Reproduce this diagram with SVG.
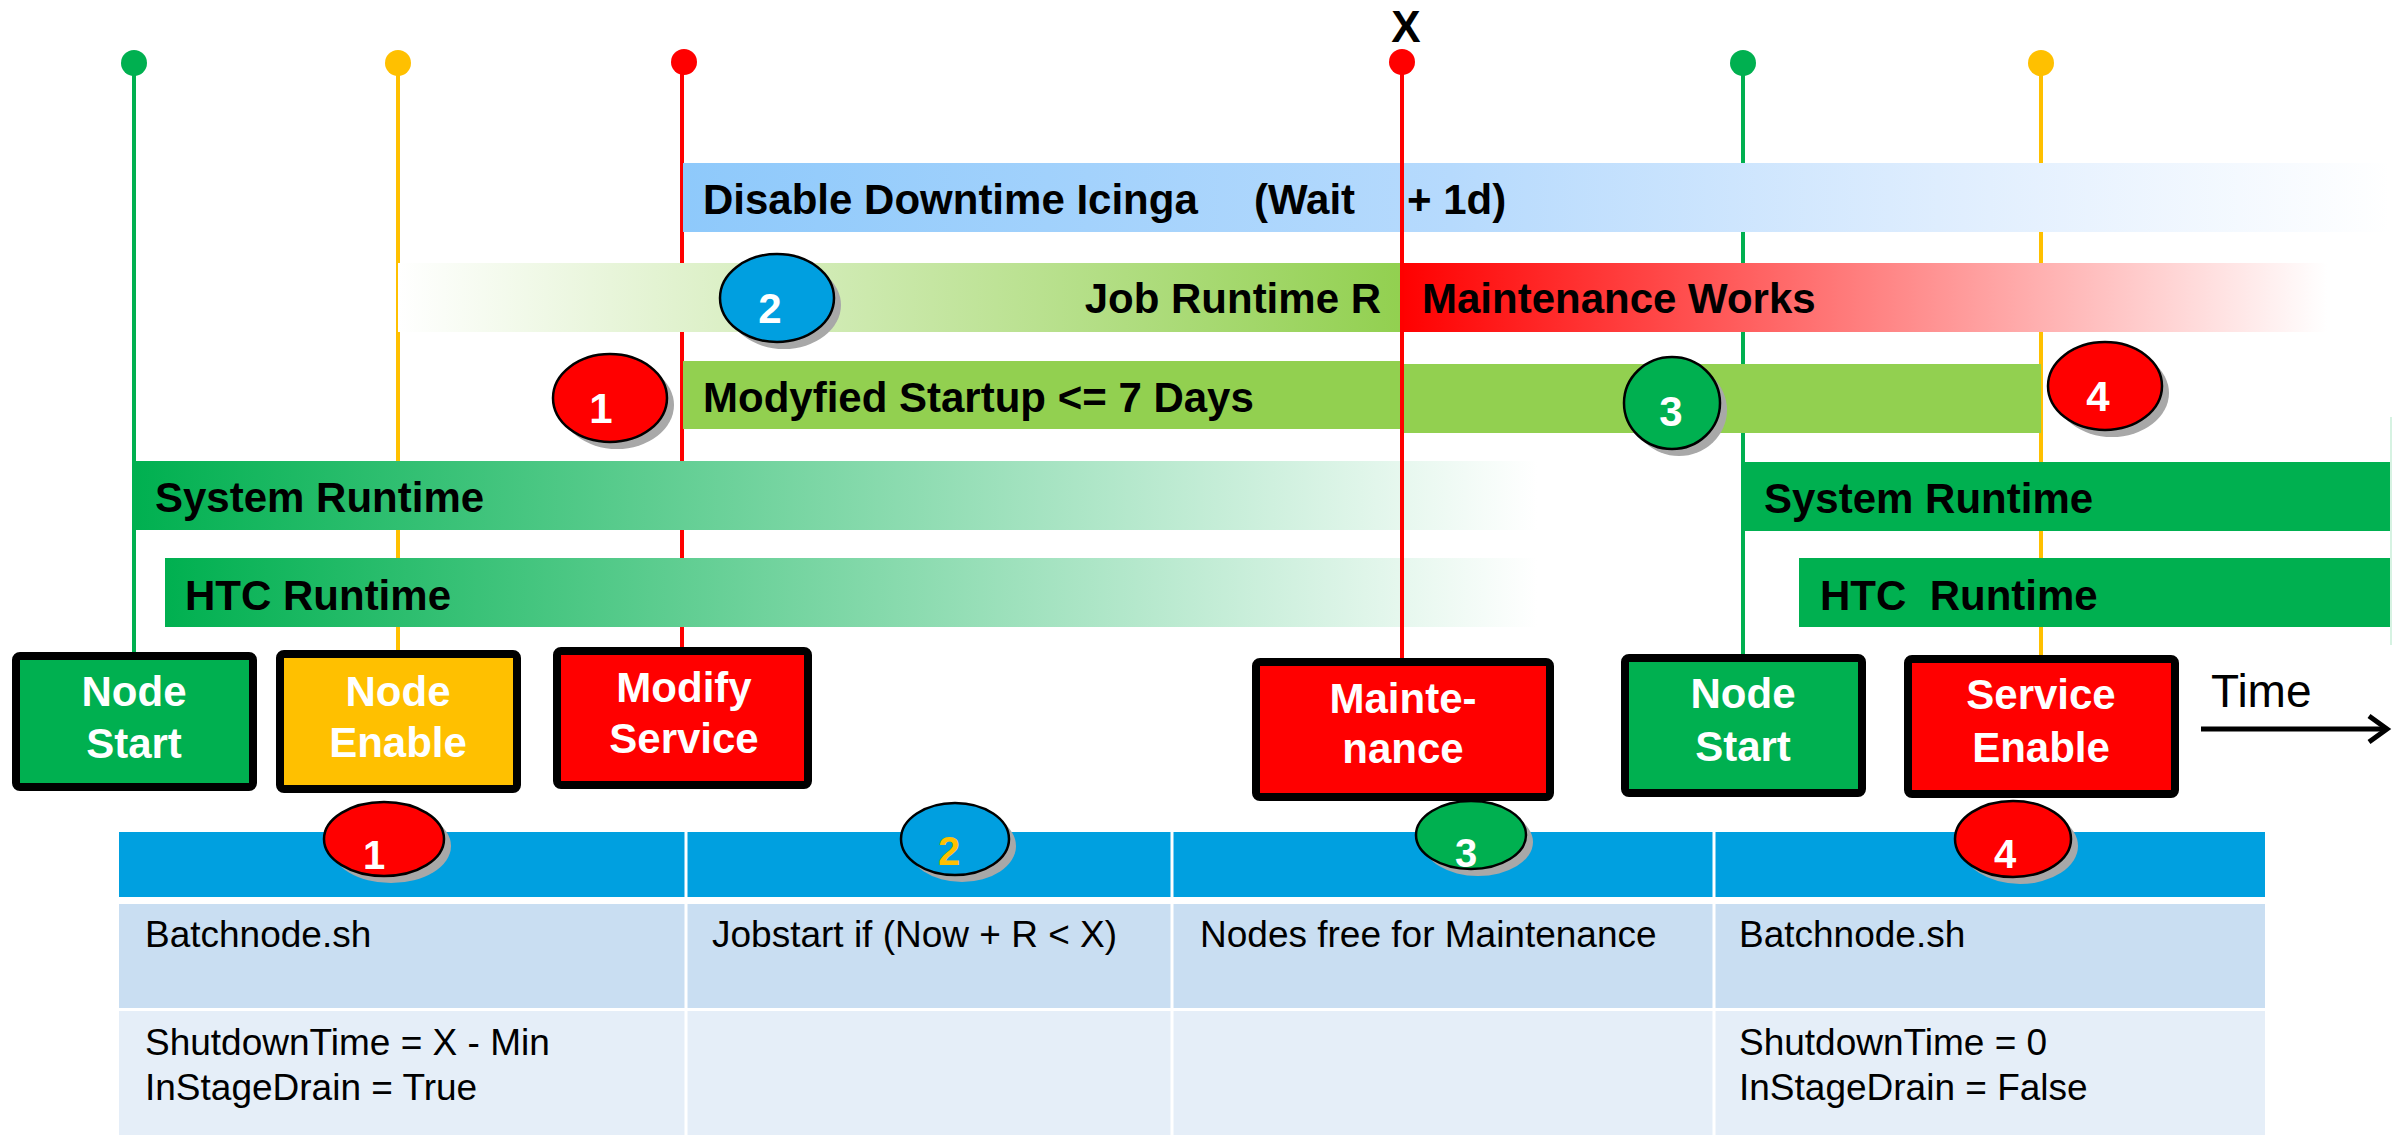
<svg xmlns="http://www.w3.org/2000/svg" width="2407" height="1135" viewBox="0 0 2407 1135">
<defs>
<linearGradient id="gDisable" gradientUnits="userSpaceOnUse" x1="683" y1="0" x2="2390" y2="0">
<stop offset="0" stop-color="#8ec9fb"/><stop offset="0.45" stop-color="#b6dafd"/><stop offset="0.75" stop-color="#e0eefe"/><stop offset="1" stop-color="#ffffff"/>
</linearGradient>
<linearGradient id="gJob" gradientUnits="userSpaceOnUse" x1="398" y1="0" x2="1401" y2="0">
<stop offset="0" stop-color="#ffffff"/><stop offset="1" stop-color="#92d050"/>
</linearGradient>
<linearGradient id="gMaint" gradientUnits="userSpaceOnUse" x1="1401" y1="0" x2="2327" y2="0">
<stop offset="0" stop-color="#ff0000"/><stop offset="1" stop-color="#ffffff"/>
</linearGradient>
<linearGradient id="gSys" gradientUnits="userSpaceOnUse" x1="134" y1="0" x2="1537" y2="0">
<stop offset="0" stop-color="#00b050"/><stop offset="1" stop-color="#ffffff"/>
</linearGradient>
<linearGradient id="gHtc" gradientUnits="userSpaceOnUse" x1="165" y1="0" x2="1537" y2="0">
<stop offset="0" stop-color="#00b050"/><stop offset="1" stop-color="#ffffff"/>
</linearGradient>
<style>
.bar{font-family:"Liberation Sans",Arial,sans-serif;font-weight:bold;font-size:42px;fill:#000}
.box{stroke:#000;stroke-width:8}
.boxt{font-family:"Liberation Sans",Arial,sans-serif;font-weight:bold;font-size:42px;fill:#fff;text-anchor:middle}
.num{font-family:"Liberation Sans",Arial,sans-serif;font-weight:bold;font-size:42px;fill:#fff;text-anchor:middle}
.nums{font-family:"Liberation Sans",Arial,sans-serif;font-weight:bold;font-size:40px;fill:#fff;text-anchor:middle}
.bdg{stroke:#000;stroke-width:2.5}
.shd{fill:#a8a8a8}
.cell{font-family:"Liberation Sans",Arial,sans-serif;font-size:37px;fill:#000}
.vl{stroke-width:4;fill:none}
</style>
</defs>
<rect width="2407" height="1135" fill="#ffffff"/>

<g id="connectors">
<line class="vl" x1="134" y1="63" x2="134" y2="656" stroke="#00b050"/>
<circle cx="134" cy="63" r="13" fill="#00b050"/>
<line class="vl" x1="398" y1="63" x2="398" y2="654" stroke="#ffc000"/>
<circle cx="398" cy="63" r="13" fill="#ffc000"/>
<line class="vl" x1="682" y1="62" x2="682" y2="651" stroke="#ff0000"/>
<circle cx="684" cy="62" r="13" fill="#ff0000"/>
<line class="vl" x1="1743" y1="63" x2="1743" y2="658" stroke="#00b050"/>
<circle cx="1743" cy="63" r="13" fill="#00b050"/>
<line class="vl" x1="2041" y1="63" x2="2041" y2="659" stroke="#ffc000"/>
<circle cx="2041" cy="63" r="13" fill="#ffc000"/>
</g>

<g id="bars">
<rect x="683" y="163" width="1707" height="69" fill="url(#gDisable)"/>
<text class="bar" x="703" y="214">Disable Downtime Icinga<tspan x="1254">(Wait</tspan><tspan x="1407">+ 1d)</tspan></text>
<rect x="398" y="263" width="1003" height="69" fill="url(#gJob)"/>
<text class="bar" x="1381" y="313" text-anchor="end">Job Runtime R</text>
<rect x="1401" y="263" width="926" height="69" fill="url(#gMaint)"/>
<text class="bar" x="1422" y="313">Maintenance Works</text>
<rect x="683" y="361" width="720" height="68" fill="#92d050"/>
<rect x="1403" y="364" width="638" height="69" fill="#92d050"/>
<text class="bar" x="703" y="412">Modyfied Startup &lt;= 7 Days</text>
<rect x="134" y="461" width="1403" height="69" fill="url(#gSys)"/>
<text class="bar" x="155" y="512">System Runtime</text>
<rect x="165" y="558" width="1372" height="69" fill="url(#gHtc)"/>
<text class="bar" x="185" y="610">HTC Runtime</text>
<rect x="1743" y="462" width="647" height="69" fill="#00b050"/>
<text class="bar" x="1764" y="513">System Runtime</text>
<rect x="1799" y="558" width="591" height="69" fill="#00b050"/>
<text class="bar" x="1820" y="610" xml:space="preserve">HTC  Runtime</text>
<line x1="2391" y1="417" x2="2391" y2="645" stroke="#c8eed8" stroke-width="1.5"/>
</g>

<g id="x-marker">
<line class="vl" x1="1402" y1="62" x2="1402" y2="662" stroke="#ff0000"/>
<circle cx="1402" cy="62" r="13" fill="#ff0000"/>
<text x="1406" y="42" text-anchor="middle" font-family="Liberation Sans, Arial, sans-serif" font-weight="bold" font-size="44">X</text>
</g>

<g id="node-start-1">
<rect class="box" x="16" y="656" width="237" height="131" rx="4" fill="#00b050"/>
<text class="boxt" x="134" y="706">Node</text>
<text class="boxt" x="134" y="758">Start</text>
</g>
<g id="node-enable">
<rect class="box" x="280" y="654" width="237" height="135" rx="4" fill="#ffc000"/>
<text class="boxt" x="398" y="706">Node</text>
<text class="boxt" x="398" y="757">Enable</text>
</g>
<g id="modify-service">
<rect class="box" x="557" y="651" width="251" height="134" rx="4" fill="#ff0000"/>
<text class="boxt" x="684" y="702">Modify</text>
<text class="boxt" x="684" y="753">Service</text>
</g>
<g id="maintenance">
<rect class="box" x="1256" y="662" width="294" height="135" rx="4" fill="#ff0000"/>
<text class="boxt" x="1403" y="713">Mainte-</text>
<text class="boxt" x="1403" y="763">nance</text>
</g>
<g id="node-start-2">
<rect class="box" x="1625" y="658" width="237" height="135" rx="4" fill="#00b050"/>
<text class="boxt" x="1743" y="708">Node</text>
<text class="boxt" x="1743" y="761">Start</text>
</g>
<g id="service-enable">
<rect class="box" x="1908" y="659" width="267" height="135" rx="4" fill="#ff0000"/>
<text class="boxt" x="2041" y="709">Service</text>
<text class="boxt" x="2041" y="762">Enable</text>
</g>

<g id="time-axis">
<text x="2211" y="707" font-family="Liberation Sans, Arial, sans-serif" font-size="46">Time</text>
<line x1="2201" y1="729" x2="2386" y2="729" stroke="#000" stroke-width="5"/>
<polyline points="2369,716 2387,729 2369,742" fill="none" stroke="#000" stroke-width="5" stroke-linejoin="miter"/>
</g>

<g id="badges-top">
<g id="badge-1-top">
<ellipse class="shd" cx="617" cy="405" rx="57" ry="44"/>
<ellipse class="bdg" cx="610" cy="398" rx="57" ry="44" fill="#ff0000"/>
<text class="num" x="601" y="423">1</text>
</g>
<g id="badge-2-top">
<ellipse class="shd" cx="784" cy="305" rx="57" ry="44"/>
<ellipse class="bdg" cx="777" cy="298" rx="57" ry="44" fill="#009fe0"/>
<text class="num" x="770" y="323">2</text>
</g>
<g id="badge-3-top">
<ellipse class="shd" cx="1679" cy="410" rx="48" ry="46"/>
<ellipse class="bdg" cx="1672" cy="403" rx="48" ry="46" fill="#00b050"/>
<text class="num" x="1671" y="426" font-size="44">3</text>
</g>
<g id="badge-4-top">
<ellipse class="shd" cx="2112" cy="393" rx="57" ry="44"/>
<ellipse class="bdg" cx="2105" cy="386" rx="57" ry="44" fill="#ff0000"/>
<text class="num" x="2098" y="411">4</text>
</g>
</g>

<g id="table">
<rect x="119" y="832" width="2146" height="65" fill="#00a0e0"/>
<rect x="119" y="904" width="2146" height="104" fill="#c9def2"/>
<rect x="119" y="1011" width="2146" height="124" fill="#e5eef8"/>
<g stroke="#ffffff" stroke-width="3">
<line x1="686" y1="832" x2="686" y2="1135"/>
<line x1="1172" y1="832" x2="1172" y2="1135"/>
<line x1="1714" y1="832" x2="1714" y2="1135"/>
</g>
<text class="cell" x="145" y="947">Batchnode.sh</text>
<text class="cell" x="712" y="947">Jobstart if (Now + R &lt; X)</text>
<text class="cell" x="1200" y="947">Nodes free for Maintenance</text>
<text class="cell" x="1739" y="947">Batchnode.sh</text>
<text class="cell" x="145" y="1055">ShutdownTime = X - Min</text>
<text class="cell" x="145" y="1100">InStageDrain = True</text>
<text class="cell" x="1739" y="1055">ShutdownTime = 0</text>
<text class="cell" x="1739" y="1100">InStageDrain = False</text>
</g>

<g id="badges-table">
<g id="badge-1-table">
<ellipse class="shd" cx="391" cy="846" rx="60" ry="37"/>
<ellipse class="bdg" cx="384" cy="839" rx="60" ry="37" fill="#ff0000"/>
<text class="nums" x="374" y="869">1</text>
</g>
<g id="badge-2-table">
<ellipse class="shd" cx="962" cy="846" rx="54" ry="36"/>
<ellipse class="bdg" cx="955" cy="839" rx="54" ry="36" fill="#009fe0"/>
<text class="nums" x="949" y="865" fill="#ffc000" style="fill:#ffc000">2</text>
</g>
<g id="badge-3-table">
<ellipse class="shd" cx="1478" cy="842" rx="55" ry="34"/>
<ellipse class="bdg" cx="1471" cy="835" rx="55" ry="34" fill="#00b050"/>
<text class="nums" x="1466" y="867">3</text>
</g>
<g id="badge-4-table">
<ellipse class="shd" cx="2020" cy="846" rx="58" ry="38"/>
<ellipse class="bdg" cx="2013" cy="839" rx="58" ry="38" fill="#ff0000"/>
<text class="nums" x="2005" y="868">4</text>
</g>
</g>
</svg>
